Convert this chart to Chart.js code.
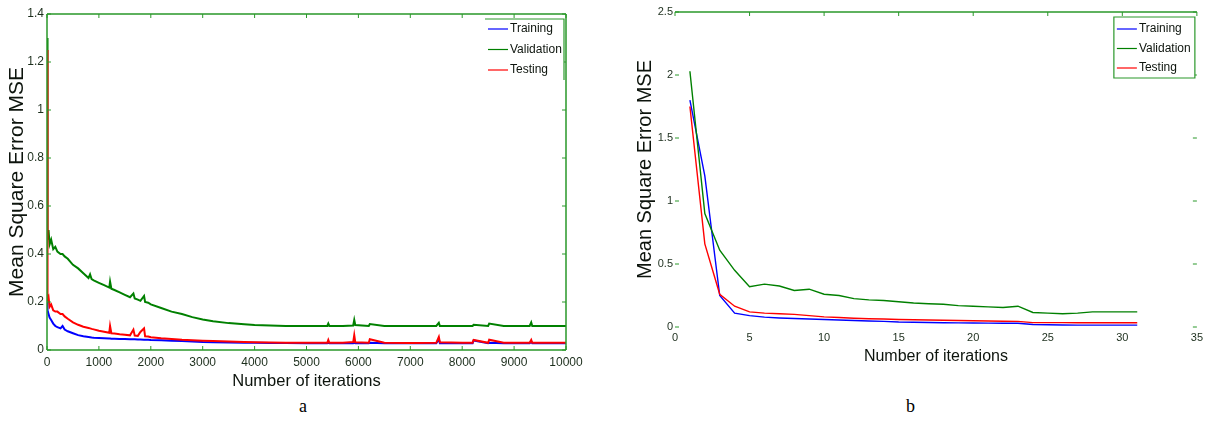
<!DOCTYPE html>
<html>
<head>
<meta charset="utf-8">
<script src="https://cdn.jsdelivr.net/npm/chart.js@4.4.1/dist/chart.umd.min.js"></script>
<style>
  body { margin: 0; background: #fff; width: 1207px; height: 425px; position: relative; overflow: hidden; }
  .panel { position: absolute; top: 0; height: 395px; }
  #panelA { left: 0; width: 600px; }
  #panelB { left: 600px; width: 607px; }
  .cap { position: absolute; top: 396px; font-family: "Liberation Serif", "Times New Roman", serif; font-size: 18px; color: #000; }
</style>
</head>
<body>
<div class="panel" id="panelA"><canvas id="chartA"></canvas></div>
<div class="panel" id="panelB"><canvas id="chartB"></canvas></div>
<div class="cap" style="left:299px">a</div>
<div class="cap" style="left:906px">b</div>
<script>
// Panel a: 10000 iterations (spikes included)
const iterA = [0, 5, 15, 30, 50, 80, 120, 160, 200, 260,
  300, 340, 400, 500, 600, 700, 800, 830, 860, 900,
  1000, 1100, 1200, 1215, 1240, 1300, 1400, 1500, 1600, 1665,
  1690, 1750, 1800, 1870, 1890, 1950, 2000, 2200, 2400, 2600,
  2800, 3000, 3200, 3500, 3800, 4000, 4300, 4600, 5000, 5400,
  5420, 5440, 5700, 5900, 5920, 5940, 6200, 6220, 6500, 7000,
  7500, 7550, 7570, 8000, 8200, 8220, 8500, 8520, 8800, 9000,
  9300, 9330, 9350, 9800, 10000];
const trainA = [0.20, 0.18, 0.165, 0.15, 0.135, 0.125, 0.11, 0.10, 0.095, 0.09,
  0.10, 0.085, 0.078, 0.07, 0.062, 0.057, 0.054, 0.053, 0.052, 0.051,
  0.05, 0.049, 0.048, 0.048, 0.047, 0.047, 0.046, 0.046, 0.045, 0.045,
  0.045, 0.044, 0.044, 0.043, 0.043, 0.043, 0.042, 0.041, 0.039, 0.037,
  0.035, 0.033, 0.032, 0.031, 0.03, 0.03, 0.029, 0.029, 0.028, 0.028,
  0.03, 0.028, 0.028, 0.028, 0.03, 0.028, 0.028, 0.03, 0.028, 0.028,
  0.028, 0.045, 0.028, 0.028, 0.028, 0.04, 0.028, 0.03, 0.028, 0.028,
  0.028, 0.035, 0.028, 0.028, 0.028];
const validA = [1.30, 0.52, 0.46, 0.50, 0.44, 0.46, 0.42, 0.43, 0.41, 0.40,
  0.40, 0.39, 0.38, 0.355, 0.34, 0.32, 0.30, 0.315, 0.295, 0.29,
  0.28, 0.27, 0.26, 0.285, 0.255, 0.25, 0.24, 0.23, 0.22, 0.235,
  0.215, 0.21, 0.205, 0.225, 0.20, 0.197, 0.19, 0.175, 0.16, 0.15,
  0.137, 0.127, 0.12, 0.112, 0.107, 0.104, 0.102, 0.10, 0.10, 0.10,
  0.11, 0.10, 0.10, 0.102, 0.125, 0.104, 0.10, 0.108, 0.10, 0.10,
  0.10, 0.113, 0.10, 0.10, 0.10, 0.105, 0.10, 0.11, 0.10, 0.10,
  0.10, 0.115, 0.10, 0.10, 0.10];
const testA = [1.25, 0.27, 0.21, 0.22, 0.18, 0.19, 0.165, 0.16, 0.16, 0.15,
  0.15, 0.14, 0.13, 0.115, 0.105, 0.097, 0.092, 0.09, 0.088, 0.086,
  0.08, 0.076, 0.072, 0.10, 0.07, 0.069, 0.066, 0.064, 0.061, 0.085,
  0.06, 0.059, 0.075, 0.09, 0.057, 0.056, 0.053, 0.049, 0.046, 0.043,
  0.041, 0.039, 0.037, 0.035, 0.033, 0.032, 0.031, 0.03, 0.03, 0.03,
  0.042, 0.03, 0.03, 0.033, 0.062, 0.032, 0.03, 0.045, 0.03, 0.029,
  0.03, 0.055, 0.032, 0.03, 0.03, 0.042, 0.03, 0.043, 0.03, 0.03,
  0.03, 0.042, 0.03, 0.03, 0.03];
const xTicksA = [0, 1000, 2000, 3000, 4000, 5000, 6000, 7000, 8000, 9000, 10000];
const xLabelsA = ['0', '1000', '2000', '3000', '4000', '5000', '6000', '7000', '8000', '9000', '10000'];
const yTicksA = [0, 0.2, 0.4, 0.6, 0.8, 1, 1.2, 1.4];
const yLabelsA = ['0', '0.2', '0.4', '0.6', '0.8', '1', '1.2', '1.4'];

// Panel b: 31 iterations
const iterB = [1, 2, 3, 4, 5, 6, 7, 8, 9, 10, 11, 12, 13, 14, 15, 16,
  17, 18, 19, 20, 21, 22, 23, 24, 25, 26, 27, 28, 29, 30, 31];
const trainB = [1.80, 1.20, 0.25, 0.11, 0.09, 0.078, 0.072, 0.068, 0.064, 0.06, 0.056,
  0.052, 0.048, 0.045, 0.04, 0.038, 0.036, 0.034, 0.033, 0.032, 0.031,
  0.03, 0.03, 0.02, 0.018, 0.016, 0.015, 0.015, 0.015, 0.015, 0.015];
const validB = [2.03, 0.90, 0.61, 0.45, 0.32, 0.34, 0.325, 0.29, 0.30, 0.26, 0.25,
  0.225, 0.215, 0.21, 0.20, 0.19, 0.185, 0.18, 0.17, 0.165, 0.16,
  0.155, 0.165, 0.115, 0.11, 0.105, 0.11, 0.12, 0.12, 0.12, 0.12];
const testB = [1.75, 0.66, 0.26, 0.165, 0.12, 0.11, 0.105, 0.10, 0.09, 0.08, 0.075,
  0.07, 0.066, 0.063, 0.06, 0.058, 0.056, 0.054, 0.052, 0.05, 0.048,
  0.046, 0.045, 0.035, 0.035, 0.035, 0.034, 0.034, 0.034, 0.034, 0.034];
const xTicksB = [0, 5, 10, 15, 20, 25, 30, 35];
const xLabelsB = ['0', '5', '10', '15', '20', '25', '30', '35'];
const yTicksB = [0, 0.5, 1, 1.5, 2, 2.5];
const yLabelsB = ['0', '0.5', '1', '1.5', '2', '2.5'];

const seriesNames = ['Training', 'Validation', 'Testing'];
const seriesColors = ['#0000ff', '#008000', '#ff0000'];
const seriesOrder = [2, 1, 0]; // red drawn on top, like the original

const FONT = '"Liberation Sans", Arial, sans-serif';
const tickColor = '#1c2e1c';
const titleColor = '#0d140d';
const frameColor = '#2a982a';

// axis frame + small inward ticks (matlab style)
const framePlugin = {
  id: 'frame',
  afterDatasetsDraw(chart, args, opts) {
    const { ctx, chartArea: a, scales: { x, y } } = chart;
    ctx.save();
    ctx.strokeStyle = frameColor;
    ctx.lineWidth = 1.5;
    ctx.beginPath();
    if (opts.sides.includes('top')) { ctx.moveTo(a.left, a.top); ctx.lineTo(a.right, a.top); }
    if (opts.sides.includes('bottom')) { ctx.moveTo(a.left, a.bottom); ctx.lineTo(a.right, a.bottom); }
    if (opts.sides.includes('left')) { ctx.moveTo(a.left, a.top); ctx.lineTo(a.left, a.bottom); }
    if (opts.sides.includes('right')) { ctx.moveTo(a.right, a.top); ctx.lineTo(a.right, a.bottom); }
    ctx.stroke();

    const len = opts.tickLen;
    ctx.lineWidth = 1;
    ctx.beginPath();
    x.ticks.forEach(t => {
      const px = x.getPixelForValue(t.value);
      if (opts.tickSides.includes('top')) { ctx.moveTo(px, a.top); ctx.lineTo(px, a.top + len); }
      if (opts.tickSides.includes('bottom')) { ctx.moveTo(px, a.bottom); ctx.lineTo(px, a.bottom - len); }
    });
    y.ticks.forEach(t => {
      const py = y.getPixelForValue(t.value);
      if (opts.tickSides.includes('left')) { ctx.moveTo(a.left, py); ctx.lineTo(a.left + len, py); }
      if (opts.tickSides.includes('right')) { ctx.moveTo(a.right, py); ctx.lineTo(a.right - len, py); }
    });
    ctx.stroke();
    ctx.restore();
  }
};

// boxed legend inside the top right corner
const boxLegend = {
  id: 'boxLegend',
  afterDraw(chart, args, opts) {
    const { ctx, chartArea: a } = chart;
    const x0 = a.right - opts.right - opts.width;
    const y0 = a.top + opts.top;
    ctx.save();
    ctx.fillStyle = '#fff';
    ctx.fillRect(x0, y0, opts.width, opts.height);
    ctx.strokeStyle = frameColor;
    ctx.lineWidth = 1.2;
    ctx.beginPath();
    if (opts.full) {
      ctx.rect(x0, y0, opts.width, opts.height);
    } else {
      ctx.moveTo(x0, y0); ctx.lineTo(x0 + opts.width, y0); ctx.lineTo(x0 + opts.width, y0 + opts.height);
    }
    ctx.stroke();
    ctx.font = opts.fontSize + 'px ' + FONT;
    ctx.textBaseline = 'middle';
    chart.data.datasets.forEach((ds, i) => {
      const ry = y0 + opts.firstRow + i * opts.rowGap;
      ctx.strokeStyle = ds.borderColor;
      ctx.lineWidth = 1.2;
      ctx.beginPath();
      ctx.moveTo(x0 + 3, ry); ctx.lineTo(x0 + 23, ry);
      ctx.stroke();
      ctx.fillStyle = titleColor;
      ctx.fillText(ds.label, x0 + 25, ry);
    });
    ctx.restore();
  }
};

function makeSets(iters, lists, width) {
  return lists.map((vals, i) => ({
    label: seriesNames[i],
    data: iters.map((it, k) => ({ x: it, y: vals[k] })),
    borderColor: seriesColors[i],
    borderWidth: width,
    pointRadius: 0,
    tension: 0,
    order: seriesOrder[i]
  }));
}

function axis(cfg) {
  return {
    type: 'linear',
    min: cfg.min,
    max: cfg.max,
    afterBuildTicks: s => { s.ticks = cfg.ticks.map(v => ({ value: v })); },
    afterFit: s => { if (cfg.width) s.width = cfg.width; if (cfg.height) s.height = cfg.height; },
    grid: { display: false, drawTicks: false },
    border: { display: false },
    ticks: {
      color: tickColor,
      font: { family: FONT, size: cfg.tickSize },
      padding: cfg.tickPad,
      maxRotation: 0,
      autoSkip: false,
      callback: (v, i) => cfg.labels[i]
    },
    title: {
      display: true,
      text: cfg.title,
      color: titleColor,
      font: { family: FONT, size: cfg.titleSize },
      padding: cfg.titlePad
    }
  };
}

new Chart(document.getElementById('chartA'), {
  type: 'line',
  data: { datasets: makeSets(iterA, [trainA, validA, testA], 2) },
  options: {
    responsive: true,
    maintainAspectRatio: false,
    animation: false,
    layout: { padding: { left: 0, right: 34, top: 14, bottom: 0 } },
    scales: {
      x: axis({ min: 0, max: 10000, ticks: xTicksA, labels: xLabelsA, height: 45, tickSize: 12, tickPad: 5,
        title: 'Number of iterations', titleSize: 16.5, titlePad: { top: 0, bottom: 4 } }),
      y: axis({ min: 0, max: 1.4, ticks: yTicksA, labels: yLabelsA, width: 47, tickSize: 12, tickPad: 3,
        title: 'Mean Square Error MSE', titleSize: 21, titlePad: { top: 5, bottom: 0 } })
    },
    plugins: {
      legend: { display: false },
      tooltip: { enabled: false },
      frame: { sides: ['top', 'bottom', 'left', 'right'], tickSides: ['bottom', 'top', 'left', 'right'], tickLen: 4 },
      boxLegend: { right: 2, top: 5, width: 79, height: 61, firstRow: 10, rowGap: 20.5, fontSize: 12, full: false }
    }
  },
  plugins: [framePlugin, boxLegend]
});

new Chart(document.getElementById('chartB'), {
  type: 'line',
  data: { datasets: makeSets(iterB, [trainB, validB, testB], 1.4) },
  options: {
    responsive: true,
    maintainAspectRatio: false,
    animation: false,
    layout: { padding: { left: 0, right: 10, top: 12, bottom: 0 } },
    scales: {
      x: axis({ min: 0, max: 35, ticks: xTicksB, labels: xLabelsB, height: 68, tickSize: 11, tickPad: 4,
        title: 'Number of iterations', titleSize: 16, titlePad: { top: 0, bottom: 29 } }),
      y: axis({ min: 0, max: 2.5, ticks: yTicksB, labels: yLabelsB, width: 75, tickSize: 11, tickPad: 2,
        title: 'Mean Square Error MSE', titleSize: 20, titlePad: { top: 33, bottom: 0 } })
    },
    plugins: {
      legend: { display: false },
      tooltip: { enabled: false },
      frame: { sides: ['top'], tickSides: ['top', 'left', 'right'], tickLen: 4 },
      boxLegend: { right: 2, top: 5, width: 81, height: 61, firstRow: 12, rowGap: 19.5, fontSize: 12, full: true }
    }
  },
  plugins: [framePlugin, boxLegend]
});
</script>
</body>
</html>
